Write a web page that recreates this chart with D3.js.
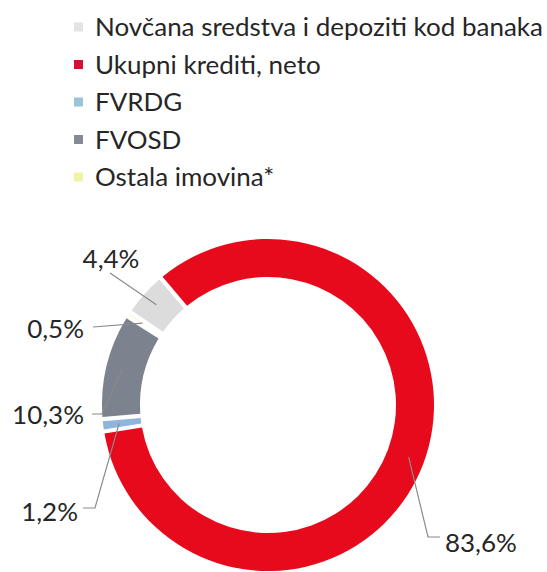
<!DOCTYPE html>
<html>
<head>
<meta charset="utf-8">
<script src="https://cdn.jsdelivr.net/npm/d3@7"></script>
<style>
  html, body { margin: 0; padding: 0; background: #ffffff; }
  svg { display: block; }
  text { font-family: Lato, "Open Sans", sans-serif; fill: #262626; }
</style>
</head>
<body>
<svg id="chart" width="547" height="572"></svg>
<script>
// ---- data ----
const categories = ["Novčana sredstva i depoziti kod banaka", "Ukupni krediti, neto", "FVRDG", "FVOSD", "Ostala imovina*"];
const shares = [4.4, 83.6, 1.2, 10.3, 0.5];
const shareLabels = ["4,4%", "83,6%", "1,2%", "10,3%", "0,5%"];

// ---- styles / layout ----
const sliceColors = ["#dcdcdc", "#e60a1c", "#8fb5dd", "#7d838e", "#f4f6cc"];
const legendColors = ["#e4e4e4", "#d31138", "#9cc4d9", "#858991", "#eef3a6"];
const cx = 268, cy = 405, rOuter = 166, rInner = 128, rLeader = 150;
const startDeg = -56;
// label anchors: [text x, text baseline y, text-anchor, elbow x, elbow y]
const labelLayout = [
  {tx: 111, ty: 268, anchor: "middle", ex: 110, ey: 273, sx: 110, sy: 273},
  {tx: 445, ty: 552, anchor: "start", ex: 428, ey: 537, sx: 440, sy: 537},
  {tx: 78, ty: 521, anchor: "end", ex: 95, ey: 508, sx: 83, sy: 508},
  {tx: 84, ty: 424, anchor: "end", ex: 102, ey: 414, sx: 92, sy: 414},
  {tx: 84, ty: 338, anchor: "end", ex: 93, ey: 327, sx: 93, sy: 327}
];

const svg = d3.select("#chart");

// ---- legend ----
const legend = svg.append("g");
const legendY = d3.scalePoint().domain(categories).range([27, 177]);
const items = legend.selectAll("g").data(categories).join("g")
  .attr("transform", d => `translate(0,${legendY(d)})`);
items.append("rect").attr("x", 74).attr("y", -4.5).attr("width", 9).attr("height", 9)
  .attr("fill", (d, i) => legendColors[i]);
const texts = items.append("text").attr("x", 95).attr("y", 0).attr("dy", "0.35em")
  .style("font-size", "24px").text(d => d);
// fit longest legend label to reference width
const longest = texts.nodes()[0].getComputedTextLength();
const fs = 24 * 448 / longest;
texts.style("font-size", fs + "px");

// ---- donut ----
const pie = d3.pie().sort(null)
  .startAngle(startDeg * Math.PI / 180)
  .endAngle(startDeg * Math.PI / 180 + 2 * Math.PI);
const arcs = pie(shares);
const arc = d3.arc().innerRadius(rInner).outerRadius(rOuter).padAngle(0.02);
const leaderArc = d3.arc().innerRadius(rLeader).outerRadius(rLeader);

const g = svg.append("g").attr("transform", `translate(${cx},${cy})`);
g.selectAll("path.slice").data(arcs).join("path")
  .attr("class", "slice")
  .attr("d", arc)
  .attr("fill", (d, i) => sliceColors[i]);

// leader lines
const lines = svg.append("g");
arcs.forEach((d, i) => {
  const c = leaderArc.centroid(d);
  const L = labelLayout[i];
  const pts = [[L.sx, L.sy], [L.ex, L.ey], [cx + c[0], cy + c[1]]];
  lines.append("path")
    .attr("d", d3.line()(pts))
    .attr("fill", "none")
    .attr("stroke", "#8a8a8a")
    .attr("stroke-width", 1.2);
});

// data labels
svg.append("g").selectAll("text").data(arcs).join("text")
  .attr("x", (d, i) => labelLayout[i].tx)
  .attr("y", (d, i) => labelLayout[i].ty)
  .attr("text-anchor", (d, i) => labelLayout[i].anchor)
  .style("font-size", fs + "px")
  .text((d, i) => shareLabels[i]);
</script>
</body>
</html>
